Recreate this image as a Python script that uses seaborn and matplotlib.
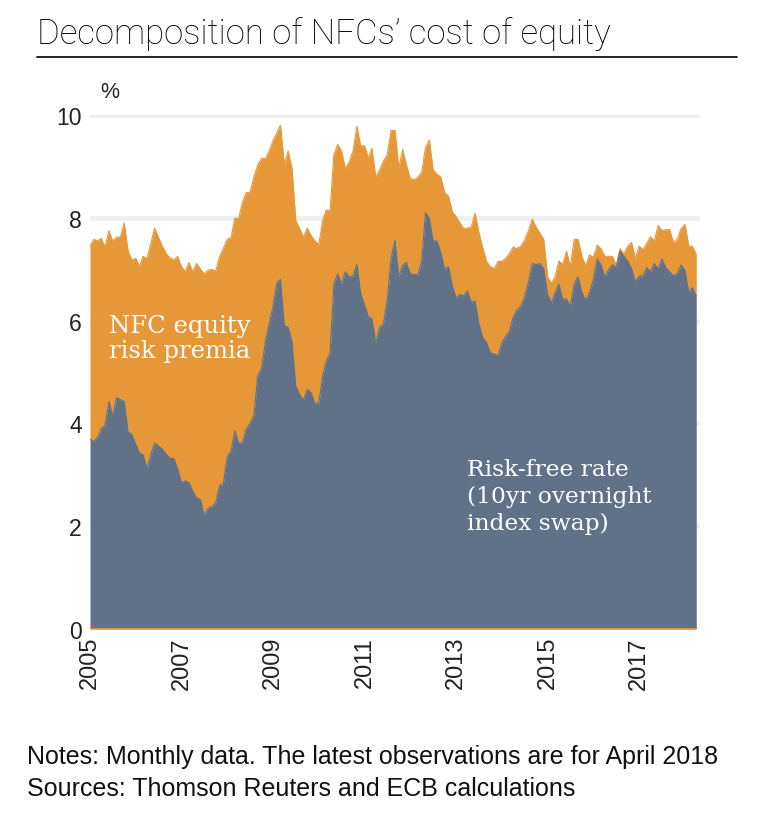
import numpy as np
import pandas as pd
import matplotlib
matplotlib.use("Agg")
import matplotlib.pyplot as plt
import matplotlib.dates as mdates
import seaborn as sns

# ---------------- data (monthly, Jan 2005 - Apr 2018) ----------------
start_month = "2005-01-01"

cost_of_equity = [
    7.45, 7.58, 7.55, 7.60, 7.43, 7.75, 7.55, 7.62, 7.63, 7.90, 7.35, 7.18,   # 2005
    7.21, 7.05, 7.25, 7.21, 7.50, 7.80, 7.62, 7.45, 7.30, 7.22, 7.18, 7.25,   # 2006
    7.05, 6.95, 7.13, 6.95, 7.11, 7.00, 6.91, 6.98, 7.00, 6.96, 7.25, 7.40,   # 2007
    7.58, 7.62, 7.99, 7.99, 8.30, 8.49, 8.49, 8.80, 9.03, 9.16, 9.15, 9.30,   # 2008
    9.50, 9.66, 9.80, 9.03, 9.30, 8.96, 7.95, 7.79, 7.62, 7.80, 7.65, 7.55,   # 2009
    7.48, 7.95, 8.15, 8.15, 9.23, 9.43, 9.30, 8.96, 9.09, 9.30, 9.78, 9.40,   # 2010
    9.40, 9.16, 9.35, 8.79, 8.93, 9.10, 9.23, 9.70, 9.70, 8.96, 9.33, 9.03,   # 2011
    8.76, 8.74, 8.79, 8.89, 9.36, 9.51, 8.93, 8.85, 8.79, 8.49, 8.42, 8.12,   # 2012
    8.02, 7.90, 7.79, 7.80, 7.82, 8.09, 7.72, 7.42, 7.15, 7.05, 7.01, 7.15,   # 2013
    7.15, 7.21, 7.30, 7.43, 7.40, 7.45, 7.56, 7.75, 7.97, 7.82, 7.70, 7.58,   # 2014
    6.85, 6.73, 6.85, 7.16, 7.09, 7.35, 7.05, 7.58, 7.58, 7.25, 7.07, 7.28,   # 2015
    7.23, 7.47, 7.40, 7.25, 7.25, 7.25, 7.08, 7.40, 7.30, 7.45, 7.52, 7.21,   # 2016
    7.45, 7.38, 7.50, 7.63, 7.55, 7.85, 7.75, 7.77, 7.77, 7.52, 7.58, 7.79,   # 2017
    7.87, 7.45, 7.45, 7.28,                                                   # 2018
]

risk_free_rate = [
    3.69, 3.65, 3.72, 3.90, 3.96, 4.43, 4.13, 4.50, 4.46, 4.43, 3.83, 3.79,   # 2005
    3.59, 3.42, 3.39, 3.12, 3.39, 3.62, 3.56, 3.50, 3.40, 3.32, 3.32, 3.12,   # 2006
    2.85, 2.88, 2.85, 2.68, 2.55, 2.52, 2.21, 2.35, 2.38, 2.45, 2.79, 2.82,   # 2007
    3.36, 3.46, 3.86, 3.62, 3.62, 3.89, 4.00, 4.16, 4.93, 5.07, 5.60, 5.94,   # 2008
    6.28, 6.74, 6.80, 5.90, 5.87, 5.60, 4.73, 4.56, 4.46, 4.66, 4.60, 4.38,   # 2009
    4.40, 4.93, 5.20, 5.37, 6.71, 6.91, 6.71, 6.95, 6.85, 6.87, 7.09, 6.54,   # 2010
    6.31, 6.07, 6.04, 5.57, 5.87, 5.94, 6.41, 7.21, 7.56, 6.85, 7.08, 7.13,   # 2011
    6.91, 6.90, 6.89, 7.15, 8.10, 7.99, 7.55, 7.55, 7.32, 7.00, 7.05, 6.68,   # 2012
    6.44, 6.51, 6.48, 6.58, 6.36, 6.38, 5.95, 5.67, 5.57, 5.37, 5.35, 5.32,   # 2013
    5.57, 5.70, 5.79, 6.06, 6.21, 6.28, 6.46, 6.74, 7.11, 7.09, 7.11, 7.01,   # 2014
    6.51, 6.34, 6.54, 6.71, 6.42, 6.42, 6.28, 6.71, 6.85, 6.54, 6.40, 6.54,   # 2015
    6.80, 7.20, 7.09, 6.85, 6.98, 7.09, 7.03, 7.35, 7.25, 7.16, 7.01, 6.76,   # 2016
    6.87, 6.87, 7.03, 6.95, 7.11, 7.01, 7.20, 7.03, 6.95, 6.87, 6.91, 7.08,   # 2017
    6.98, 6.54, 6.64, 6.48,                                                   # 2018
]

y_ticks = [0, 2, 4, 6, 8, 10]
x_tick_years = [2005, 2007, 2009, 2011, 2013, 2015, 2017]

title = "Decomposition of NFCs\u2019 cost of equity"
unit_label = "%"
premia_label = "NFC equity\nrisk premia"
rfr_label = "Risk-free rate\n(10yr overnight\nindex swap)"
notes = ["Notes: Monthly data. The latest observations are for April 2018",
         "Sources: Thomson Reuters and ECB calculations"]

# ---------------- build table ----------------
dates = pd.date_range(start_month, periods=len(risk_free_rate), freq="MS")
df = pd.DataFrame({"date": dates,
                   "risk_free": risk_free_rate,
                   "total": cost_of_equity})

ORANGE = "#E69838"
BLUE = "#607188"
GRID = "#EFEFEF"

sns.set_theme(style="white")
plt.rcParams["font.family"] = ["Liberation Sans", "DejaVu Sans"]

fig = plt.figure(figsize=(7.8, 8.2), dpi=100)
W, H = 780, 820
ax = fig.add_axes([90 / W, 1 - 630 / H, (700 - 90) / W, (630 - 116) / H])

# areas
ax.fill_between(df["date"], df["risk_free"], df["total"], color=ORANGE,
                linewidth=0, zorder=2)
ax.fill_between(df["date"], 0, df["risk_free"], color=BLUE,
                linewidth=0, zorder=3)
sns.lineplot(data=df, x="date", y="total", ax=ax, color=ORANGE,
             linewidth=0.8, zorder=2.5)
sns.lineplot(data=df, x="date", y="risk_free", ax=ax, color=BLUE,
             linewidth=0.8, zorder=3.5)
ax.plot([df["date"].iloc[0], df["date"].iloc[-1]], [0, 0], color=ORANGE,
        linewidth=1.2, zorder=4)

# axes styling
ax.set_ylim(0, 10)
ax.set_xlim(pd.Timestamp("2005-01-01"), pd.Timestamp("2018-05-01"))
ax.set_yticks(y_ticks)
ax.set_yticklabels([str(v) for v in y_ticks], fontsize=16.5, color="#222222")
ax.set_xticks([pd.Timestamp(f"{y}-01-01") for y in x_tick_years])
ax.set_xticklabels([str(y) for y in x_tick_years], rotation=90,
                   fontsize=17, color="#222222", va="top", ha="center")
ax.tick_params(axis="both", length=0, pad=6)
ax.tick_params(axis="x", pad=5)
for s in ax.spines.values():
    s.set_visible(False)
ax.grid(False)
for v in y_ticks:
    ax.axhline(v, color=GRID, linewidth=3.5, zorder=1, xmin=-0.005, xmax=1.0)
ax.set_xlabel("")
ax.set_ylabel("")
ax.set_facecolor("white")

# text
fig.text(37 / W, 1 - 34 / H, title, fontsize=25, color="#000000",
         family=["Roboto", "Liberation Sans"], fontweight="light",
         va="center", ha="left")
fig.add_artist(plt.Line2D([37 / W, 737 / W], [1 - 58 / H, 1 - 58 / H],
                          color="#111111", linewidth=1.3))
fig.text(100 / W, 1 - 93 / H, unit_label, fontsize=15.5, color="#222222",
         va="center", ha="left")

ax.text(pd.Timestamp("2005-06-01"), 5.66, premia_label, fontsize=17.5,
        family="DejaVu Serif", color="white", va="center", ha="left",
        linespacing=1.1, zorder=5)
ax.text(pd.Timestamp("2013-04-01"), 2.59, rfr_label, fontsize=16.8,
        family="DejaVu Serif", color="white", va="center", ha="left",
        linespacing=1.28, zorder=5)

fig.text(27 / W, 1 - 757 / H, notes[0], fontsize=18, color="#111111",
         va="center", ha="left")
fig.text(27 / W, 1 - 789 / H, notes[1], fontsize=18, color="#111111",
         va="center", ha="left")

fig.savefig("out.png", dpi=100, facecolor="white")
